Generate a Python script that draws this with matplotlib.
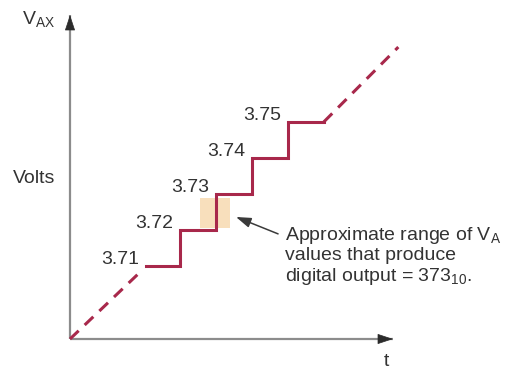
import numpy as np
import matplotlib
matplotlib.use("Agg")
import matplotlib.pyplot as plt

plt.rcParams['font.family'] = ['Liberation Sans', 'DejaVu Sans']
plt.rcParams['mathtext.fontset'] = 'custom'
plt.rcParams['mathtext.rm'] = 'Liberation Sans'
plt.rcParams['lines.scale_dashes'] = False

# staircase: output levels (volts) and the time edges of each step
levels = [3.71, 3.72, 3.73, 3.74, 3.75]
step_edges = [2.1, 3.05, 4.05, 5.05, 6.05, 7.05]
level_labels = ['3.71', '3.72', '3.73', '3.74', '3.75']

# dashed ramp before and after the staircase
v0 = 3.6897
ramp_lo_t = [0.0, 1.97]
ramp_lo_v = [v0, 3.7085]
ramp_hi_t = [7.05, 9.12]
ramp_hi_v = [3.75, 3.7708]

# shaded range of V_A that gives output 373
box_t = (3.6, 4.45)
box_v = (3.7205, 3.729)

# annotation arrow (tail, head)
note_tail = (5.78, 3.7189)
note_head = (4.61, 3.7236)
note_lines = [r'Approximate range of V$_\mathregular{A}$',
              'values that produce',
              r'digital output = 373$_\mathregular{10}$.']

red = '#a8284b'
axis_gray = '#8c8c8c'
txt = '#333333'

fig = plt.figure(figsize=(5.25, 3.71), dpi=100)
ax = fig.add_axes([70 / 525, 32 / 371, 330 / 525, 324 / 371])
ax.set_xlim(0, 330 / 36)
ax.set_ylim(v0, v0 + 0.09)
ax.axis('off')

# axes with arrow heads
t_end = 323 / 36
v_end = v0 + 0.09
ax.plot([0, t_end], [v0, v0], color=axis_gray, lw=1.6, clip_on=False, solid_capstyle='butt')
ax.plot([0, 0], [v0, v_end], color=axis_gray, lw=1.6, clip_on=False, solid_capstyle='butt')
ax.annotate('', xy=(t_end, v0), xytext=(t_end - 0.4, v0),
            arrowprops=dict(arrowstyle='-|>,head_length=1.0,head_width=0.33',
                            color='#2b2b2b', lw=0.5, mutation_scale=10,
                            shrinkA=0, shrinkB=0), annotation_clip=False)
ax.annotate('', xy=(0, v_end), xytext=(0, v_end - 0.004),
            arrowprops=dict(arrowstyle='-|>,head_length=1.0,head_width=0.33',
                            color='#2b2b2b', lw=0.5, mutation_scale=10,
                            shrinkA=0, shrinkB=0), annotation_clip=False)

# shaded box
ax.fill_between(box_t, box_v[0], box_v[1], color='#f8dfbc', lw=0, zorder=1)

# staircase
st_t, st_v = [], []
for i, lv in enumerate(levels):
    st_t += [step_edges[i], step_edges[i + 1]]
    st_v += [lv, lv]
ax.plot(st_t, st_v, color=red, lw=2.2, zorder=3, solid_joinstyle='miter')

# dashed ramp
ax.plot(ramp_lo_t, ramp_lo_v, color=red, lw=2.2, dashes=(8.6, 6.0), zorder=3, clip_on=False)
ax.plot(ramp_hi_t, ramp_hi_v, color=red, lw=2.2, dashes=(8.6, 6.0), zorder=3, clip_on=False)

# step labels
for lv, lab, t0 in zip(levels, level_labels, step_edges[:-1]):
    ax.annotate(lab, xy=(t0, lv), xytext=(-4.5, 1.5), textcoords='offset points',
                ha='right', va='baseline', fontsize=14, color=txt)

# annotation
ax.annotate('', xy=note_head, xytext=note_tail,
            arrowprops=dict(arrowstyle='-|>,head_length=0.9,head_width=0.3',
                            color='#3a3a3a', lw=1.1, mutation_scale=10,
                            shrinkA=0, shrinkB=0))
for i, line in enumerate(note_lines):
    ax.annotate(line, xy=(5.97, 3.7172), xytext=(0, -14.6 * i), textcoords='offset points',
                ha='left', va='baseline', fontsize=14, color=txt)

# axis labels
fig.text(22 / 525, 1 - 25 / 371, r'V$_\mathregular{AX}$', fontsize=14, color=txt,
         ha='left', va='baseline')
fig.text(13 / 525, 1 - 183 / 371, 'Volts', fontsize=14, color=txt, ha='left', va='baseline')
fig.text(386 / 525, 1 - 366 / 371, 't', fontsize=14, color=txt, ha='center', va='baseline')

fig.savefig('out.png', dpi=100)
